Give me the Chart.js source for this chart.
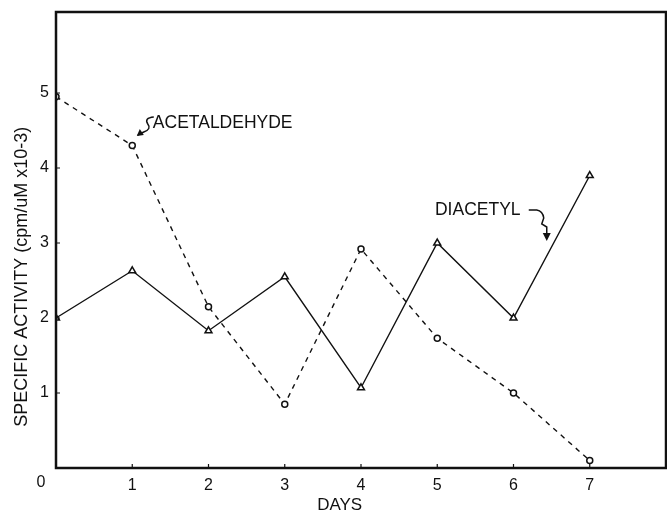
<!DOCTYPE html>
<html>
<head>
<script src="https://cdn.jsdelivr.net/npm/chart.js"></script>
<title>Specific activity</title>
<style>
  html, body { margin: 0; background: #fff; overflow: hidden; }
  #wrap { width: 667px; height: 512px; }
</style>
</head>
<body>
<div id="wrap"><canvas id="myChart"></canvas></div>
<script>
// values
const days = [0, 1, 2, 3, 4, 5, 6, 7];
const acetaldehyde = [4.95, 4.3, 2.15, 0.85, 2.92, 1.73, 1.0, 0.1];
const diacetyl = [2.0, 2.63, 1.83, 2.55, 1.07, 3.0, 2.0, 3.9];
const yTickLabels = ['1', '2', '3', '4', '5'];
const xTickLabels = ['1', '2', '3', '4', '5', '6', '7'];

const ink = '#111';
const font = '"Liberation Sans", Arial, sans-serif';

// frame, small inward ticks, axis titles, labels and curly arrows
const extras = {
  id: 'extras',
  afterDraw(chart) {
    const c = chart.ctx;
    const a = chart.chartArea;
    const x = chart.scales.x, y = chart.scales.y;
    c.save();
    c.strokeStyle = ink;
    c.fillStyle = ink;
    c.lineWidth = 2.5;
    c.strokeRect(a.left, a.top, a.right - a.left, a.bottom - a.top);

    c.lineWidth = 1.2;
    c.beginPath();
    x.ticks.forEach(t => {
      const p = x.getPixelForValue(t.value);
      c.moveTo(p, a.bottom); c.lineTo(p, a.bottom - 4);
    });
    y.ticks.forEach(t => {
      const p = y.getPixelForValue(t.value);
      c.moveTo(a.left, p); c.lineTo(a.left + 4, p);
    });
    c.stroke();

    c.font = '16px ' + font;
    c.textAlign = 'center';
    c.textBaseline = 'middle';
    c.fillText('0', a.left - 15, a.bottom + 15);
    c.font = '17px ' + font;
    c.fillText('DAYS', x.getPixelForValue(3.72), a.bottom + 37);

    c.save();
    c.translate(22, y.getPixelForValue(2.55));
    c.rotate(-Math.PI / 2);
    c.font = '18px ' + font;
    c.fillText('SPECIFIC ACTIVITY (cpm/uM x10-3)', 0, 0);
    c.restore();

    c.textAlign = 'left';
    c.font = '17.5px ' + font;
    c.fillText('ACETALDEHYDE', x.getPixelForValue(1.27), y.getPixelForValue(4.6));
    c.fillText('DIACETYL', x.getPixelForValue(4.97), y.getPixelForValue(3.44));

    // arrow to acetaldehyde
    c.lineWidth = 1.5;
    let px = x.getPixelForValue(1.23), py = y.getPixelForValue(4.68);
    c.beginPath();
    c.moveTo(px + 4, py);
    c.quadraticCurveTo(px - 6, py + 1, px - 2, py + 7);
    c.quadraticCurveTo(px + 2, py + 12, px - 6, py + 15);
    c.lineTo(px - 12, py + 18);
    c.stroke();
    c.beginPath();
    c.moveTo(px - 13, py + 19);
    c.lineTo(px - 10, py + 12);
    c.lineTo(px - 6, py + 18);
    c.closePath();
    c.fill();

    // arrow to diacetyl
    px = x.getPixelForValue(6.2); py = y.getPixelForValue(3.44);
    c.beginPath();
    c.moveTo(px, py);
    c.lineTo(px + 8, py);
    c.quadraticCurveTo(px + 14, py + 1, px + 15, py + 8);
    c.lineTo(px + 13, py + 14);
    c.lineTo(px + 18, py + 17);
    c.lineTo(px + 18, py + 26);
    c.stroke();
    c.beginPath();
    c.moveTo(px + 18, py + 31);
    c.lineTo(px + 14, py + 23);
    c.lineTo(px + 22, py + 23);
    c.closePath();
    c.fill();
    c.restore();
  }
};

const ctx = document.getElementById('myChart');
new Chart(ctx, {
  type: 'line',
  data: {
    datasets: [{
      label: 'ACETALDEHYDE',
      data: days.map((d, i) => ({ x: d, y: acetaldehyde[i] })),
      borderColor: ink,
      borderWidth: 1.4,
      borderDash: [5, 5],
      pointStyle: 'circle',
      pointRadius: 3,
      pointBorderWidth: 1.5,
      pointBackgroundColor: '#fff',
      pointBorderColor: ink,
      tension: 0
    }, {
      label: 'DIACETYL',
      data: days.map((d, i) => ({ x: d, y: diacetyl[i] })),
      borderColor: ink,
      borderWidth: 1.4,
      pointStyle: 'triangle',
      pointRadius: 4,
      pointBorderWidth: 1.5,
      pointBackgroundColor: '#fff',
      pointBorderColor: ink,
      tension: 0
    }]
  },
  options: {
    responsive: true,
    maintainAspectRatio: false,
    animation: false,
    layout: { autoPadding: false, padding: { top: 12, right: 1, left: 0, bottom: 0 } },
    plugins: { legend: { display: false }, tooltip: { enabled: false } },
    scales: {
      x: {
        type: 'linear',
        min: 0,
        max: 8,
        grid: { display: false, drawTicks: false },
        border: { display: false },
        afterFit: s => {
          s.height = 44;
          s.paddingLeft = 0; s.paddingRight = 0;
        },
        ticks: {
          stepSize: 1,
          padding: 8,
          color: ink,
          font: { family: font, size: 16 },
          callback: v => xTickLabels.includes(String(v)) ? String(v) : ''
        }
      },
      y: {
        min: 0,
        max: 6.08,
        grid: { display: false, drawTicks: false },
        border: { display: false },
        afterFit: s => {
          s.width = 56;
          s.paddingTop = 0; s.paddingBottom = 0;
        },
        ticks: {
          stepSize: 1,
          padding: 7,
          color: ink,
          font: { family: font, size: 16 },
          callback: v => yTickLabels.includes(String(v)) ? String(v) : ''
        }
      }
    }
  },
  plugins: [extras]
});
</script>
</body>
</html>
